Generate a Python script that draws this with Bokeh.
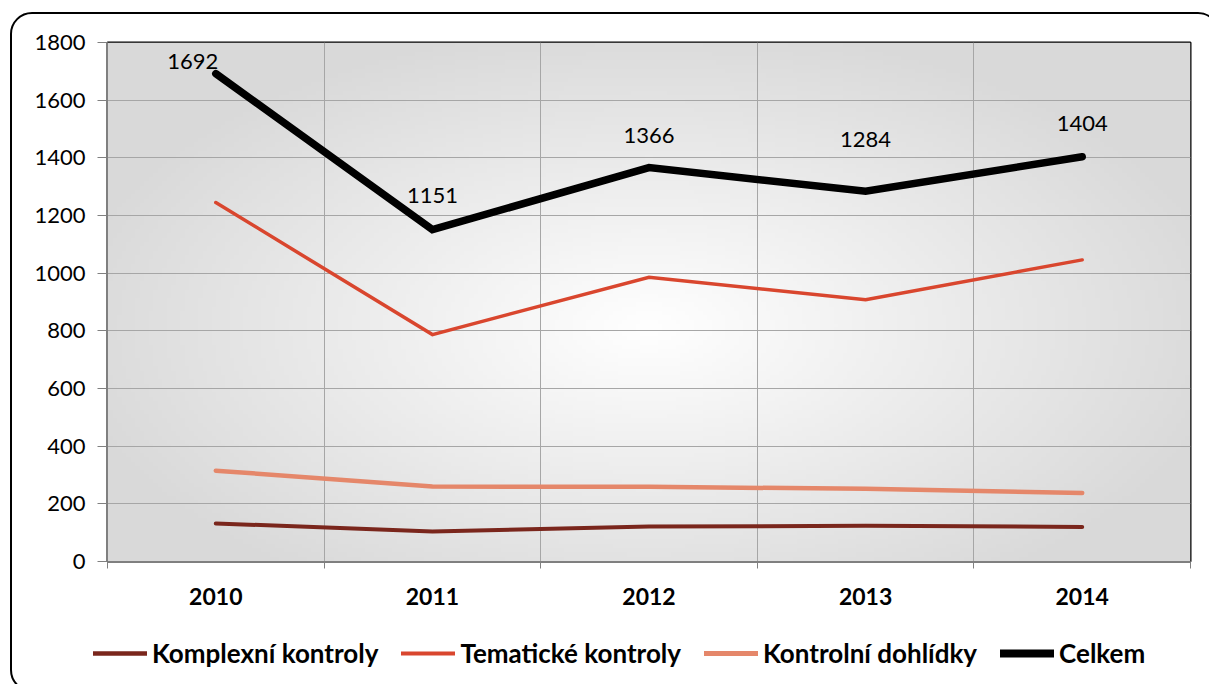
import numpy as np
from bokeh.plotting import figure
from bokeh.layouts import column
from bokeh.models import (FixedTicker, Legend, LegendItem, ColumnDataSource)
from bokeh.core.properties import value
from bokeh.embed import file_html
from bokeh.resources import INLINE

years = ["2010", "2011", "2012", "2013", "2014"]
komplexni = [132, 104, 121, 124, 120]
tematicke = [1245, 787, 986, 908, 1046]
dohlidky = [315, 260, 259, 252, 238]
celkem = [1692, 1151, 1366, 1284, 1404]
celkem_labels = ["1692", "1151", "1366", "1284", "1404"]
y_ticks = [0, 200, 400, 600, 800, 1000, 1200, 1400, 1600, 1800]
series_names = ["Komplexní kontroly", "Tematické kontroly", "Kontrolní dohlídky", "Celkem"]

FONT = "Lato"
xs = list(range(len(years)))
W, H_MAIN, H_LEG = 1209, 620, 64
series = [komplexni, tematicke, dohlidky, celkem]

p = figure(width=W, height=H_MAIN, output_backend="svg", toolbar_location=None,
           x_range=(-0.5, len(years) - 0.5), y_range=(0, 1800),
           min_border_left=107, min_border_right=19, min_border_top=42, min_border_bottom=59)
p.frame_align = False
p.background_fill_color = "#d9d9d9"
p.border_fill_color = "white"
p.outline_line_color = "black"
p.outline_line_width = 2

# radial gradient background (decoration)
nx, ny = 240, 120
gx = np.linspace(0, 1, nx)[None, :]
gy = np.linspace(0, 1, ny)[:, None]
t = np.sqrt(((gx - 0.5) / 0.55) ** 2 + ((gy - 0.45) / 0.6) ** 2)
t = np.clip(t, 0, 1)
g = (255 - 38 * t).astype(np.uint32)
img = ((255 << 24) | (g << 16) | (g << 8) | g).astype(np.uint32)
r_img = p.image_rgba(image=[img], x=-0.5, y=0, dw=len(years), dh=1800)
r_img.level = "image"

# axes
p.yaxis.ticker = FixedTicker(ticks=y_ticks)
p.yaxis.major_label_text_font = FONT
p.yaxis.major_label_text_font_size = "22px"
p.yaxis.major_label_text_color = "black"
p.yaxis.axis_line_color = "#808080"
p.yaxis.major_tick_line_color = "#808080"
p.yaxis.major_tick_out = 10
p.yaxis.major_tick_in = 0
p.yaxis.minor_tick_line_color = None
p.yaxis.major_label_standoff = 12

p.xaxis.ticker = FixedTicker(ticks=xs, minor_ticks=[i - 0.5 for i in range(len(years) + 1)])
p.xaxis.major_label_overrides = {i: y for i, y in enumerate(years)}
p.xaxis.major_label_text_font = FONT
p.xaxis.major_label_text_font_style = "bold"
p.xaxis.major_label_text_font_size = "23px"
p.xaxis.major_label_text_color = "black"
p.xaxis.axis_line_color = "#808080"
p.xaxis.major_tick_line_color = None
p.xaxis.minor_tick_line_color = "#808080"
p.xaxis.minor_tick_out = 7
p.xaxis.minor_tick_in = 0
p.xaxis.major_label_standoff = 19

p.ygrid.ticker = FixedTicker(ticks=y_ticks)
p.ygrid.grid_line_color = "#a6a6a6"
p.xgrid.ticker = FixedTicker(ticks=xs, minor_ticks=[i - 0.5 for i in range(len(years) + 1)])
p.xgrid.grid_line_color = None
p.xgrid.minor_grid_line_color = "#a6a6a6"

colors = ["#7a261c", "#d9462e", "#e5876a", "black"]
widths = [4, 3.5, 4.5, 7.5]
for vals, c, w in zip(series, colors, widths):
    p.line(xs, vals, line_color=c, line_width=w, line_join="miter", line_cap="round")

label_dx = [-23, 0, 0, 0, 0]
label_dy = [-12, -34, -32, -52, -33]
src = ColumnDataSource(dict(x=xs, y=celkem, t=celkem_labels, dx=label_dx, dy=label_dy))
p.text(x="x", y="y", text="t", x_offset="dx", y_offset="dy", source=src,
       text_font=value(FONT), text_font_size="22px", text_color="black",
       text_align="center", text_baseline="middle")

# legend strip (own figure so the legend is not clipped by the plot frame);
# its proxy lines lie outside the strip's ranges, so only the legend shows
lf = figure(width=W, height=H_LEG, output_backend="svg", toolbar_location=None,
            x_range=(100, 101), y_range=(0, 1), min_border=0)
lf.frame_align = False
lf.axis.visible = False
lf.grid.visible = False
lf.outline_line_color = None
lf.background_fill_color = None
lf.border_fill_color = None
items = []
for name, vals, c, w in zip(series_names, series, colors, widths):
    r = lf.line(xs, vals, line_color=c, line_width=w + 0.5, line_cap="round")
    items.append(LegendItem(label=name, renderers=[r]))
legend = Legend(items=items, orientation="horizontal", location=(93, 15))
legend.label_text_font = FONT
legend.label_text_font_style = "bold"
legend.label_text_font_size = "26px"
legend.label_text_color = "black"
legend.glyph_width = 54
legend.label_standoff = 5
legend.spacing = 23
legend.padding = 0
legend.margin = 0
legend.border_line_color = None
legend.background_fill_alpha = 0
lf.add_layout(legend, "center")

layout = column(p, lf, spacing=0)
layout.stylesheets = [
    ":host { position: relative; overflow: hidden; }"
    ":host::after { content: ''; position: absolute; left: 10px; top: 12px; width: 1210px; height: 680px;"
    " border: 2px solid black; border-radius: 22px; pointer-events: none; box-sizing: border-box; }"
]

open("out.html", "w").write(file_html(layout, INLINE))
